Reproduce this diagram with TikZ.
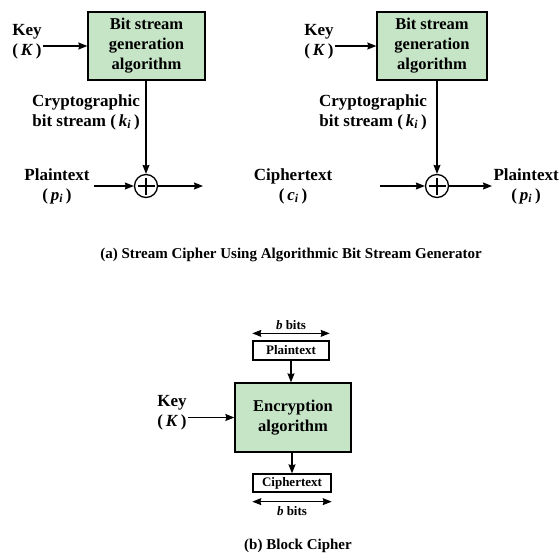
\documentclass[tikz,border=0pt]{standalone}
\usepackage{fontspec}
\setmainfont{Liberation Serif}
\usetikzlibrary{arrows.meta}
\definecolor{algogreen}{RGB}{198,228,198}
\newcommand{\sub}[1]{\textsubscript{\textit{#1}}}
\begin{document}
\begin{tikzpicture}[x=1pt,y=-1pt,>={Stealth[length=9pt,width=7pt,inset=1pt]},line width=1.1pt]
  \tikzstyle{algo}=[draw, fill=algogreen, line width=1.3pt, align=center,
    font=\fontsize{16.5}{20}\selectfont\bfseries]
  \tikzstyle{lbl}=[align=center, inner sep=1pt, font=\fontsize{17}{20}\selectfont\bfseries]
  \tikzstyle{blk}=[draw, line width=1.3pt, inner sep=0pt, font=\fontsize{13}{15}\selectfont\bfseries]
  \tikzstyle{small}=[inner sep=1pt, font=\fontsize{13}{15}\selectfont\bfseries]
  \tikzstyle{captxt}=[font=\fontsize{15}{17}\selectfont\bfseries]
  \tikzstyle{xor}=[draw, circle, minimum size=23pt, inner sep=0pt, line width=1.3pt,
    path picture={\draw[line width=1.3pt]
      ([yshift=-3pt]path picture bounding box.north) -- ([yshift=3pt]path picture bounding box.south)
      ([xshift=3pt]path picture bounding box.west) -- ([xshift=-3pt]path picture bounding box.east);}]

  \useasboundingbox (0,0) rectangle (560,555);

  % (a) stream cipher
  \node[algo, minimum width=117pt, minimum height=68pt] (genL) at (146.5,46) {Bit stream\\generation\\algorithm};
  \node[lbl] (keyL) at (27,42) {Key\\(\,\textit{K}\,)};
  \node[lbl] (streamL) at (86,112) {Cryptographic\\bit stream (\,\textit{k}\sub{i}\,)};
  \node[xor] (xorL) at (146,186) {};
  \node[lbl] (ptL) at (57,186) {Plaintext\\(\,\textit{p}\sub{i}\,)};
  \coordinate (outL) at (203,186);

  \node[algo, minimum width=110pt, minimum height=68pt] (genR) at (432,46) {Bit stream\\generation\\algorithm};
  \node[lbl] (keyR) at (319,42) {Key\\(\,\textit{K}\,)};
  \node[lbl] (streamR) at (373,112) {Cryptographic\\bit stream (\,\textit{k}\sub{i}\,)};
  \node[xor] (xorR) at (437,186) {};
  \node[lbl] (ctR) at (293,186) {Ciphertext\\(\,\textit{c}\sub{i}\,)};
  \coordinate (inR) at (380,186);
  \node[lbl, anchor=west] (ptR) at (492,186) {Plaintext\\(\,\textit{p}\sub{i}\,)};

  \node[captxt] (capA) at (291,255) {(a) Stream Cipher Using Algorithmic Bit Stream Generator};

  \draw[->] (keyL.east |- genL.west) -- (genL.west);
  \draw[->] (genL.south -| xorL) -- (xorL);
  \draw[->] ([xshift=3pt]ptL.east |- xorL) -- (xorL);
  \draw[->] (xorL) -- (outL);
  \draw[->] (keyR.east |- genR.west) -- (genR.west);
  \draw[->] (genR.south -| xorR) -- (xorR);
  \draw[->] (inR) -- (xorR);
  \draw[->] (xorR) -- (ptR.west |- xorR);

  % (b) block cipher
  \node[small] (bitsT) at (291,325) {\textit{b} bits};
  \node[blk, minimum width=76pt, minimum height=19pt] (ptB) at (291,350.5) {Plaintext};
  \node[algo, minimum width=116pt, minimum height=69pt] (enc) at (293,417.5) {Encryption\\algorithm};
  \node[lbl] (keyB) at (172,413) {Key\\(\,\textit{K}\,)};
  \node[blk, minimum width=78pt, minimum height=18pt] (ctB) at (292,483) {Ciphertext};
  \node[small] (bitsB) at (292,511) {\textit{b} bits};
  \node[captxt] (capB) at (298,546) {(b) Block Cipher};

  \draw[<->, line width=0.8pt] ([yshift=7pt]ptB.north west) -- ([yshift=7pt]ptB.north east);
  \draw[->] (ptB) -- (ptB |- enc.north);
  \draw[->] (keyB.east |- enc.west) -- (enc.west);
  \draw[->] (enc.south -| ctB) -- (ctB);
  \draw[<->, line width=0.8pt] ([yshift=-9pt]ctB.south west) -- ([yshift=-9pt]ctB.south east);
\end{tikzpicture}
\end{document}
